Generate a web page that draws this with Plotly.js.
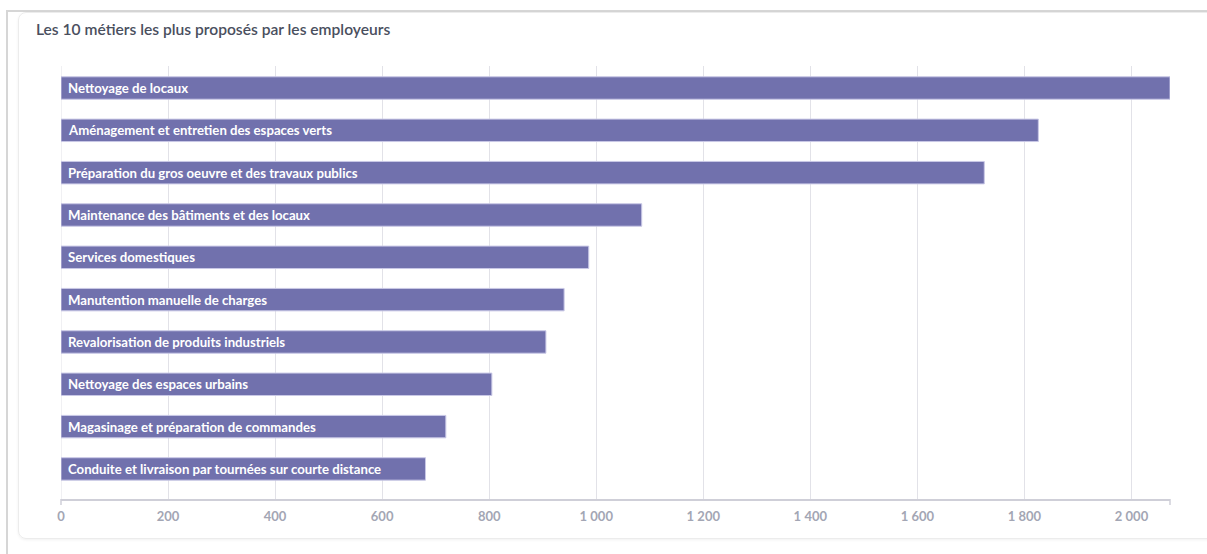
<!DOCTYPE html>
<html>
<head>
<meta charset="utf-8">
<script src="https://cdn.plot.ly/plotly-3.0.1.min.js"></script>
<style>
html,body{margin:0;padding:0;background:#fff;}
#chart{width:1207px;height:554px;}
.frame{position:absolute;pointer-events:none;}
</style>
</head>
<body>
<div id="chart"></div>
<script>
const metiers = [
  "Nettoyage de locaux",
  "Aménagement et entretien des espaces verts",
  "Préparation du gros oeuvre et des travaux publics",
  "Maintenance des bâtiments et des locaux",
  "Services domestiques",
  "Manutention manuelle de charges",
  "Revalorisation de produits industriels",
  "Nettoyage des espaces urbains",
  "Magasinage et préparation de commandes",
  "Conduite et livraison par tournées sur courte distance"
];
const offres = [2072, 1826, 1725, 1085, 986, 940, 906, 805, 719, 681];
const tickVals = [0, 200, 400, 600, 800, 1000, 1200, 1400, 1600, 1800, 2000];
const tickLabels = ["0", "200", "400", "600", "800", "1\u202F000", "1\u202F200", "1\u202F400", "1\u202F600", "1\u202F800", "2\u202F000"];
const titre = "Les 10 métiers les plus proposés par les employeurs";

const trace = {
  type: "bar",
  orientation: "h",
  y: metiers,
  x: offres,
  marker: {color: "#7171ad", line: {color: "#c9c8e6", width: 1}},
  hoverinfo: "x+y"
};

const labelAnnotations = metiers.map(function(m){
  return {
    x: 0, y: m, xref: "x", yref: "y",
    text: m, showarrow: false,
    xanchor: "left", yanchor: "middle", xshift: 5,
    font: {family: "Lato, sans-serif", size: 13.2, color: "#ffffff", weight: 700}
  };
});

const layout = {
  width: 1207, height: 554,
  margin: {l: 61, r: 37, t: 66, b: 55},
  paper_bgcolor: "#ffffff",
  plot_bgcolor: "#ffffff",
  bargap: 0.47,
  showlegend: false,
  font: {family: "Lato, sans-serif"},
  title: {
    text: titre,
    x: 36 / 1207, xref: "container", xanchor: "left",
    y: 1 - 30 / 554, yref: "container", yanchor: "middle",
    font: {family: "Lato, sans-serif", size: 15.6, color: "#4a4f5e", weight: 600}
  },
  xaxis: {
    range: [0, 2072],
    tickvals: tickVals,
    ticktext: tickLabels,
    showgrid: true,
    gridcolor: "#e2e2e8",
    gridwidth: 1,
    zeroline: false,
    showline: true,
    linecolor: "#cfcfd8",
    linewidth: 1.5,
    ticks: "",
    ticklabelstandoff: 5,
    tickfont: {family: "Lato, sans-serif", size: 13, color: "#a3a6b4", weight: 700},
    fixedrange: true
  },
  yaxis: {
    type: "category",
    categoryorder: "array",
    categoryarray: metiers,
    range: [9.71, -0.52],
    showticklabels: false,
    showgrid: false,
    zeroline: false,
    showline: false,
    fixedrange: true
  },
  annotations: labelAnnotations,
  shapes: [
    {type: "line", xref: "paper", yref: "paper", x0: 0, x1: 0, y0: 0, y1: -0.014, line: {color: "#cfcfd8", width: 1.5}},
    {type: "line", xref: "paper", yref: "paper", x0: 1, x1: 1, y0: 0, y1: -0.014, line: {color: "#cfcfd8", width: 1.5}},
    {type: "line", xref: "x", yref: "paper", x0: 0, x1: 0, y0: 0, y1: 1, line: {color: "#e2e2e8", width: 1}, layer: "below"}
  ]
};

Plotly.newPlot("chart", [trace], layout, {displayModeBar: false, staticPlot: true});
</script>
<div class="frame" style="left:6px;top:10px;width:1220px;height:560px;border-left:2px solid #d6d6d6;border-top:2px solid #d6d6d6;"></div>
<div class="frame" style="left:18px;top:12px;width:1220px;height:525px;border:1px solid #ececec;border-radius:8px;box-shadow:0 1px 3px rgba(0,0,0,0.06);"></div>
</body>
</html>
